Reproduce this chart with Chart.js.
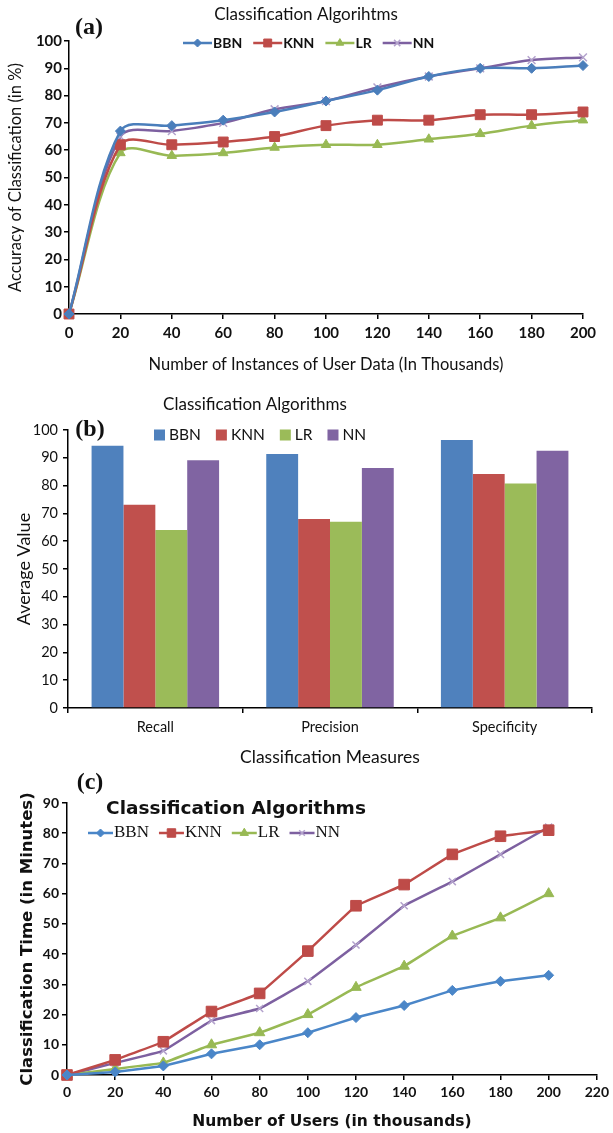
<!DOCTYPE html>
<html>
<head>
<meta charset="utf-8">
<script src="https://cdn.jsdelivr.net/npm/chart.js@4.4.0/dist/chart.umd.min.js"></script>
<style>
body { margin: 0; background: #fff; width: 613px; height: 1133px; overflow: hidden; position: relative; }
canvas { position: absolute; left: 0; }
</style>
</head>
<body>
<canvas id="chartA" width="613" height="378" style="top:0px"></canvas>
<canvas id="chartB" width="613" height="392" style="top:378px"></canvas>
<canvas id="chartC" width="613" height="363" style="top:770px"></canvas>
<script>
// (a) accuracy vs number of instances
const instances = [0, 20, 40, 60, 80, 100, 120, 140, 160, 180, 200];
const accBBN = [0, 67, 69, 71, 74, 78, 82, 87, 90, 90, 91];
const accKNN = [0, 62, 62, 63, 65, 69, 71, 71, 73, 73, 74];
const accLR  = [0, 59, 58, 59, 61, 62, 62, 64, 66, 69, 71];
const accNN  = [0, 65, 67, 70, 75, 78, 83, 87, 90, 93, 94];

// (b) average value per measure
const measures = ['Recall', 'Precision', 'Specificity'];
const avgBBN = [94.3, 91.4, 96.4];
const avgKNN = [73.1, 68.0, 84.2];
const avgLR  = [64.0, 67.0, 80.8];
const avgNN  = [89.1, 86.3, 92.5];

// (c) classification time vs number of users
const users = [0, 20, 40, 60, 80, 100, 120, 140, 160, 180, 200];
const timeBBN = [0, 1, 3, 7, 10, 14, 19, 23, 28, 31, 33];
const timeKNN = [0, 5, 11, 21, 27, 41, 56, 63, 73, 79, 81];
const timeLR  = [0, 2, 4, 10, 14, 20, 29, 36, 46, 52, 60];
const timeNN  = [0, 4, 8, 18, 22, 31, 43, 56, 64, 73, 82];

const BLUE = '#4a7ebb', RED = '#be4b48', GREEN = '#98b954', PURPLE = '#7d60a0';
const SANS = 'Lato, "Open Sans", sans-serif';
const WIDE = '"DejaVu Sans", Verdana, sans-serif';
const SERIF = '"Liberation Serif", "Times New Roman", serif';

Chart.defaults.color = '#111';
Chart.defaults.font.family = SANS;

// legend + panel tag drawn on top of the plot, like the original figure
const figLegend = {
  id: 'figLegend',
  afterDraw(chart, args, o) {
    const ctx = chart.ctx;
    ctx.save();
    ctx.fillStyle = '#111';
    ctx.textBaseline = 'middle';
    if (o.tag) {
      ctx.font = 'bold 24px ' + SERIF;
      ctx.textAlign = 'center';
      ctx.fillText(o.tag, o.tagX, o.tagY);
    }
    if (o.title) {
      ctx.font = o.titleFont;
      ctx.textAlign = 'center';
      ctx.fillText(o.title, o.titleX, o.titleY);
    }
    ctx.font = o.font;
    ctx.textAlign = 'left';
    let x = o.x;
    chart.data.datasets.forEach(ds => {
      if (o.box) {
        ctx.fillStyle = ds.backgroundColor;
        ctx.fillRect(x, o.y - o.box / 2, o.box, o.box);
        x += o.box + o.textGap;
      } else {
        ctx.strokeStyle = ds.borderColor;
        ctx.lineWidth = ds.borderWidth;
        ctx.beginPath();
        ctx.moveTo(x, o.y);
        ctx.lineTo(x + o.lineLen, o.y);
        ctx.stroke();
        ctx.fillStyle = ds.pointBackgroundColor;
        ctx.strokeStyle = ds.pointBorderColor;
        ctx.lineWidth = ds.pointBorderWidth;
        Chart.helpers.drawPoint(ctx, {
          pointStyle: ds.pointStyle, radius: ds.pointRadius * 0.8,
          borderWidth: ds.pointBorderWidth, rotation: 0
        }, x + o.lineLen / 2, o.y);
        x += o.lineLen + o.textGap;
      }
      ctx.fillStyle = '#111';
      ctx.fillText(ds.label, x, o.y);
      x += ctx.measureText(ds.label).width + o.itemGap;
    });
    ctx.restore();
  }
};

function line(label, xs, ys, color, style, radius, lw, markColor) {
  return {
    label: label,
    data: xs.map((x, i) => ({ x: x, y: ys[i] })),
    borderColor: color,
    backgroundColor: color,
    borderWidth: lw,
    pointStyle: style,
    pointRadius: radius,
    pointHoverRadius: radius,
    pointBackgroundColor: markColor || color,
    pointBorderColor: markColor || color,
    pointBorderWidth: style === 'crossRot' ? 1.5 : 1,
    clip: false
  };
}

function axis(extra) {
  const a = {
    border: { color: '#000', width: 1.5 },
    grid: { drawOnChartArea: false, color: '#000', lineWidth: 1.5, tickLength: 5 }
  };
  return Object.assign(a, extra);
}

// ---------- (a)
new Chart(document.getElementById('chartA'), {
  type: 'line',
  data: {
    datasets: [
      line('BBN', instances, accBBN, BLUE, 'rectRot', 5, 2.5),
      line('KNN', instances, accKNN, RED, 'rect', 7, 2.5),
      line('LR', instances, accLR, GREEN, 'triangle', 5.5, 2.5),
      line('NN', instances, accNN, PURPLE, 'crossRot', 5.5, 2.5, '#b3a2cc')
    ]
  },
  options: {
    responsive: false,
    animation: false,
    layout: { padding: { top: 41, right: 30, left: 0, bottom: 0 } },
    plugins: {
      legend: { display: false },
      tooltip: { enabled: false },
      figLegend: {
        tag: '(a)', tagX: 89, tagY: 28,
        title: 'Classification Algorihtms', titleFont: '17px ' + SANS, titleX: 306, titleY: 15,
        font: 'bold 14px ' + SANS, x: 183, y: 43, lineLen: 29, textGap: 1, itemGap: 11
      }
    },
    elements: { line: { tension: 0.32 } },
    scales: {
      x: axis({
        type: 'linear', min: 0, max: 200,
        ticks: { stepSize: 20, padding: 5, font: { size: 15, weight: 'bold' } },
        title: { display: true, text: 'Number of Instances of User Data (In Thousands)', font: { size: 16.5 }, padding: { top: 0, bottom: 3 } },
        afterFit: s => { s.height = 64; }
      }),
      y: axis({
        min: 0, max: 100,
        ticks: { stepSize: 10, padding: 2, font: { size: 15, weight: 'bold' } },
        title: { display: true, text: 'Accuracy of Classification (in %)', font: { size: 16.5 }, padding: { top: 6, bottom: 0 } },
        afterFit: s => { s.width = 69; }
      })
    }
  },
  plugins: [figLegend]
});

// ---------- (b)
const barColors = ['#4f81bd', '#c0504d', '#9bbb59', '#8064a2'];
new Chart(document.getElementById('chartB'), {
  type: 'bar',
  data: {
    labels: measures,
    datasets: [
      { label: 'BBN', data: avgBBN, backgroundColor: barColors[0] },
      { label: 'KNN', data: avgKNN, backgroundColor: barColors[1] },
      { label: 'LR', data: avgLR, backgroundColor: barColors[2] },
      { label: 'NN', data: avgNN, backgroundColor: barColors[3] }
    ]
  },
  options: {
    responsive: false,
    animation: false,
    datasets: { bar: { barPercentage: 1, categoryPercentage: 0.73 } },
    layout: { padding: { top: 52, right: 21, left: 0, bottom: 0 } },
    plugins: {
      legend: { display: false },
      tooltip: { enabled: false },
      figLegend: {
        tag: '(b)', tagX: 90, tagY: 52,
        title: 'Classification Algorithms', titleFont: '17px ' + SANS, titleX: 255, titleY: 27,
        font: '15.5px ' + SANS, x: 154, y: 57, box: 11, textGap: 4, itemGap: 15
      }
    },
    scales: {
      x: axis({
        ticks: { padding: 6, font: { size: 14.5 } },
        title: { display: true, text: 'Classification Measures', font: { size: 17.5 }, padding: { top: 0, bottom: 2 } },
        afterFit: s => { s.height = 62; }
      }),
      y: axis({
        min: 0, max: 100,
        ticks: { stepSize: 10, padding: 5, font: { size: 14.5 } },
        title: { display: true, text: 'Average Value', font: { size: 18 }, padding: { top: 13, bottom: 0 } },
        afterFit: s => { s.width = 68; }
      })
    }
  },
  plugins: [figLegend]
});

// ---------- (c)
new Chart(document.getElementById('chartC'), {
  type: 'line',
  data: {
    datasets: [
      line('BBN', users, timeBBN, '#4a86c8', 'rectRot', 5, 2.5),
      line('KNN', users, timeKNN, RED, 'rect', 7.5, 2.5),
      line('LR', users, timeLR, GREEN, 'triangle', 6, 2.5),
      line('NN', users, timeNN, PURPLE, 'crossRot', 5, 2.5, '#b3a2cc')
    ]
  },
  options: {
    responsive: false,
    animation: false,
    elements: { line: { tension: 0.05 } },
    layout: { padding: { top: 33, right: 11, left: 0, bottom: 0 } },
    plugins: {
      legend: { display: false },
      tooltip: { enabled: false },
      figLegend: {
        tag: '(c)', tagX: 90, tagY: 13,
        title: 'Classification Algorithms', titleFont: 'bold 18.5px ' + WIDE, titleX: 236, titleY: 39,
        font: '17px ' + SERIF, x: 88, y: 63, lineLen: 25, textGap: 1, itemGap: 10
      }
    },
    scales: {
      x: axis({
        type: 'linear', min: 0, max: 220,
        ticks: { stepSize: 20, padding: 4, font: { size: 14, weight: 'bold' } },
        title: { display: true, text: 'Number of Users (in thousands)', font: { family: WIDE, size: 15.5, weight: 'bold' }, padding: { top: 0, bottom: 2 } },
        afterFit: s => { s.height = 58; }
      }),
      y: axis({
        min: 0, max: 90,
        ticks: { stepSize: 10, padding: 3, font: { size: 14, weight: 'bold' } },
        title: { display: true, text: 'Classification Time (in Minutes)', font: { family: WIDE, size: 16.5, weight: 'bold' }, padding: { top: 18, bottom: 0 } },
        afterFit: s => { s.width = 67; }
      })
    }
  },
  plugins: [figLegend]
});
</script>
</body>
</html>
